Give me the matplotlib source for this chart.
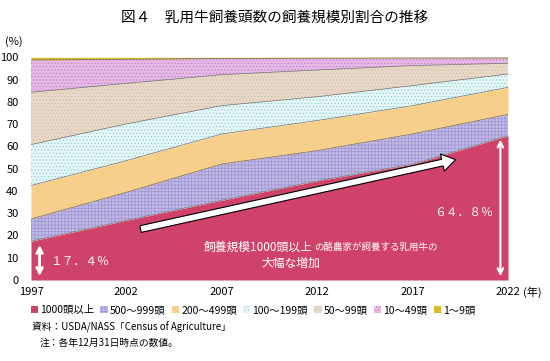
import matplotlib
matplotlib.use('Agg')
import matplotlib.pyplot as plt
from matplotlib.patches import Patch
import numpy as np

plt.rcParams['font.family'] = ['Noto Sans CJK JP', 'DejaVu Sans']
plt.rcParams['hatch.linewidth'] = 0.4

# 各年の規模別割合（%）
years = [1997, 2002, 2007, 2012, 2017, 2022]
labels = ['1000頭以上', '500～999頭', '200～499頭', '100～199頭', '50～99頭', '10～49頭', '1～9頭']
s1000 = [17.4, 26.8, 35.8, 44.5, 52.0, 64.8]
s500 = [10.0, 12.6, 16.3, 13.6, 13.6, 9.6]
s200 = [15.0, 14.2, 13.5, 13.5, 12.7, 12.1]
s100 = [18.4, 16.5, 12.7, 10.7, 9.0, 6.0]
s50 = [23.5, 18.2, 13.9, 12.0, 9.0, 4.8]
s10 = [14.5, 10.8, 7.3, 5.3, 3.4, 2.4]
s1 = [1.2, 0.9, 0.5, 0.4, 0.3, 0.3]

series = [s1000, s500, s200, s100, s50, s10, s1]
faces = ['#CF436A', '#BFB8E4', '#F6CF8B', '#E4F6F6', '#E8D8C8', '#E6B8E6', '#D6BC2C']
hatches = [None, '+++++', None, '.....', '.....', '.....', None]
hcols = ['#CF436A', '#9990CE', '#F6CF8B', '#86CACC', '#CDB9A6', '#C078C2', '#D6BC2C']

fig = plt.figure(figsize=(5.5, 3.61), dpi=100)
ax = fig.add_axes([31/550, 1-280/361, 477/550, 222.7/361])

bottom = np.zeros(len(years))
for s, fc, h, hc in zip(series, faces, hatches, hcols):
    top = bottom + np.array(s)
    ax.fill_between(years, bottom, top, facecolor=fc, hatch=h, edgecolor=hc, linewidth=0)
    if fc != faces[-1]:
        ax.plot(years, top, color='#707070', lw=0.5)
    bottom = top

ax.set_xlim(1997, 2022)
ax.set_ylim(0, 100)
ax.set_xticks(years)
ax.set_yticks(range(0, 101, 10))
ax.tick_params(labelsize=8, length=0, pad=9)
ax.tick_params(axis='x', pad=5)
for sp in ax.spines.values():
    sp.set_visible(False)

fig.text(275/550, 1-18/361, '図４　乳用牛飼養頭数の飼養規模別割合の推移', ha='center', va='center', fontsize=10.5)
fig.text(5/550, 1-42/361, '(%)', ha='left', va='center', fontsize=8)
fig.text(523/550, 1-292/361, '(年)', ha='left', va='center', fontsize=8)

# 矢印と注記
ax.annotate('', xy=(1997.45, 0.5), xytext=(1997.45, 17.0),
            arrowprops=dict(arrowstyle='<->', color='white', lw=2, mutation_scale=10))
ax.text(1998.0, 8.5, '１７．４％', color='white', fontsize=8.5, va='center', ha='left')
ax.annotate('', xy=(2021.6, 0.5), xytext=(2021.6, 64.3),
            arrowprops=dict(arrowstyle='<->', color='white', lw=1.5, mutation_scale=10))
ax.text(2021.2, 30.5, '６４．８％', color='white', fontsize=8.5, va='center', ha='right')
ax.annotate('', xy=(2019.4, 54.3), xytext=(2002.6, 22.6),
            arrowprops=dict(arrowstyle='simple,head_length=0.7,head_width=0.9,tail_width=0.35',
                            facecolor='white', edgecolor='black', lw=0.8, mutation_scale=14))
fig.text(313/550, 1-247/361, '飼養規模1000頭以上', color='white', fontsize=8.5, ha='right', va='center')
fig.text(314/550, 1-247/361, 'の酪農家が飼養する乳用牛の', color='white', fontsize=6.8, ha='left', va='center')
fig.text(291/550, 1-263/361, '大幅な増加', color='white', fontsize=8.5, ha='center', va='center')

handles = [Patch(facecolor=fc, hatch=h, edgecolor=hc, linewidth=0) for fc, h, hc in zip(faces, hatches, hcols)]
fig.legend(handles, labels, loc='center', bbox_to_anchor=(253/550, 1-310/361), ncol=7, frameon=False,
           fontsize=7.5, handlelength=0.7, handleheight=0.7, handletextpad=0.2, columnspacing=0.6)

fig.text(32/550, 1-327/361, '資料：USDA/NASS「Census of Agriculture」', fontsize=7, va='center')
fig.text(40/550, 1-343/361, '注：各年12月31日時点の数値。', fontsize=7, va='center')

fig.savefig('out.png', dpi=100)
